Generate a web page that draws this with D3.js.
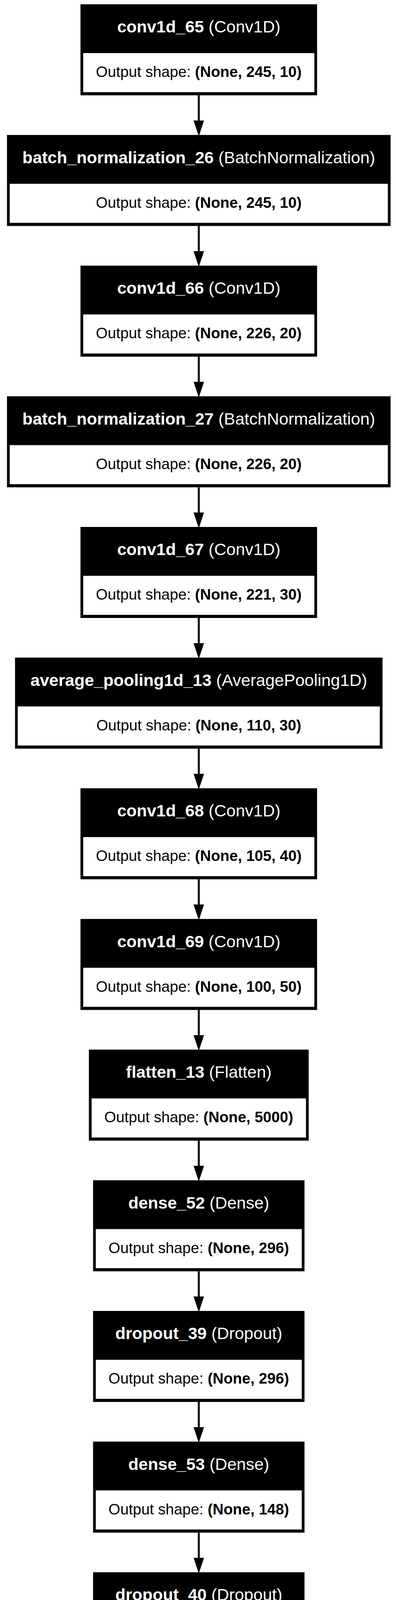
<!DOCTYPE html>
<html lang="en">
<head>
    <title>Model plot</title>
    <script src="https://d3js.org/d3.v7.min.js"></script>
    <style>
        body { margin: 0; background: #fff; overflow: hidden; }
        svg { display: block; }
        text { font-family: "Liberation Sans", Arial, sans-serif; }
    </style>
</head>
<body>
    <svg id="chart" width="1014" height="5256"></svg>
    <script>
        var layerNames = ["conv1d_65", "batch_normalization_26", "conv1d_66", "batch_normalization_27",
            "conv1d_67", "average_pooling1d_13", "conv1d_68", "conv1d_69", "flatten_13", "dense_52",
            "dropout_39", "dense_53", "dropout_40", "dense_54", "dropout_41", "dense_55"];
        var layerTypes = ["Conv1D", "BatchNormalization", "Conv1D", "BatchNormalization",
            "Conv1D", "AveragePooling1D", "Conv1D", "Conv1D", "Flatten", "Dense",
            "Dropout", "Dense", "Dropout", "Dense", "Dropout", "Dense"];
        var outputShapes = ["(None, 245, 10)", "(None, 245, 10)", "(None, 226, 20)", "(None, 226, 20)",
            "(None, 221, 30)", "(None, 110, 30)", "(None, 105, 40)", "(None, 100, 50)", "(None, 5000)",
            "(None, 296)", "(None, 296)", "(None, 148)", "(None, 148)", "(None, 74)", "(None, 74)", "(None, 2)"];

        var cx = 509, boxH = 233, headH = 125, step = 334.5, gap = 101;
        var titleSize = 43, shapeSize = 38.7;
        var svg = d3.select("#chart");

        var y = d3.scaleBand()
            .domain(d3.range(layerNames.length))
            .range([11, 11 + step * layerNames.length - gap])
            .paddingInner(gap / step);

        // measure text widths first so each box fits its longest line
        var tmp = svg.append("g");
        function measure(parts) {
            var t = tmp.append("text");
            parts.forEach(function(p) {
                t.append("tspan").text(p[0]).attr("font-weight", p[1]).attr("font-size", p[2]);
            });
            return t.node().getComputedTextLength();
        }
        var nodes = layerNames.map(function(n, i) {
            var w1 = measure([[n + " ", "bold", titleSize], ["(" + layerTypes[i] + ")", "normal", titleSize]]);
            var w2 = measure([["Output shape: ", "normal", shapeSize], [outputShapes[i], "bold", shapeSize]]);
            return { name: n, type: layerTypes[i], shape: outputShapes[i], w: Math.max(w1, w2) + 79 };
        });
        tmp.remove();

        // arrows
        var arrows = svg.append("g");
        nodes.slice(1).forEach(function(d, k) {
            var y0 = y(k) + boxH, y1 = y(k + 1);
            arrows.append("line").attr("x1", cx).attr("x2", cx)
                .attr("y1", y0).attr("y2", y1 - 30)
                .attr("stroke", "#000").attr("stroke-width", 5);
            arrows.append("path")
                .attr("d", "M" + (cx - 12) + "," + (y1 - 36) + "L" + (cx + 12) + "," + (y1 - 36) + "L" + cx + "," + y1 + "Z")
                .attr("fill", "#000").attr("stroke", "#000").attr("stroke-width", 2);
        });

        var g = svg.selectAll("g.node").data(nodes).enter().append("g")
            .attr("class", "node")
            .attr("transform", function(d, i) { return "translate(" + (cx - d.w / 2) + "," + y(i) + ")"; });

        g.append("rect").attr("width", function(d) { return d.w; }).attr("height", boxH)
            .attr("fill", "#000");
        g.append("rect").attr("x", 7).attr("y", headH)
            .attr("width", function(d) { return d.w - 14; }).attr("height", boxH - headH - 8)
            .attr("fill", "#fff");

        var t1 = g.append("text").attr("x", function(d) { return d.w / 2; }).attr("y", 72)
            .attr("text-anchor", "middle").attr("font-size", titleSize).attr("fill", "#fff");
        t1.append("tspan").attr("font-weight", "bold").text(function(d) { return d.name + " "; });
        t1.append("tspan").text(function(d) { return "(" + d.type + ")"; });

        var t2 = g.append("text").attr("x", function(d) { return d.w / 2; }).attr("y", 186)
            .attr("text-anchor", "middle").attr("font-size", shapeSize).attr("fill", "#000");
        t2.append("tspan").text("Output shape: ");
        t2.append("tspan").attr("font-weight", "bold").text(function(d) { return d.shape; });
    </script>
</body>
</html>
